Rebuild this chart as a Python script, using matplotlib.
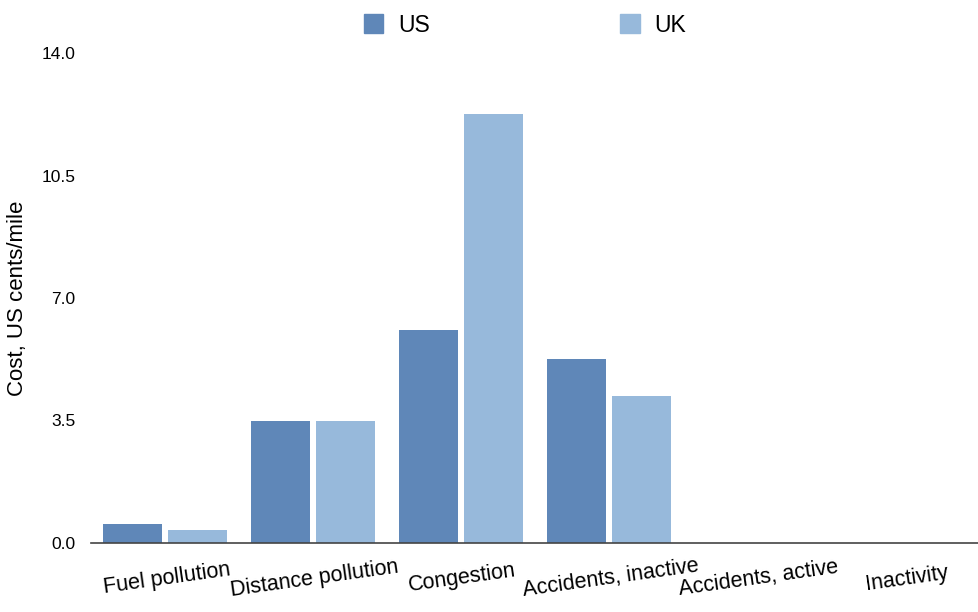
import matplotlib
matplotlib.use("Agg")
import matplotlib.pyplot as plt
import numpy as np
from matplotlib.patches import Patch

categories = ["Fuel pollution", "Distance pollution", "Congestion",
              "Accidents, inactive", "Accidents, active", "Inactivity"]
us_values = [0.54, 3.5, 6.1, 5.25, 0.0, 0.0]
uk_values = [0.37, 3.5, 12.25, 4.2, 0.0, 0.0]
yticks = [0.0, 3.5, 7.0, 10.5, 14.0]

us_color = "#5f87b8"
uk_color = "#97b9db"

plt.rcParams['font.family'] = ['Liberation Sans', 'DejaVu Sans']

fig = plt.figure(figsize=(9.79, 6.12), dpi=100)
ax = fig.add_axes([91/979, 1 - 543/612, 1 - 91/979, (543 - 53)/612])

x = np.arange(len(categories))
w = 0.40
ax.bar(x - 0.22, us_values, width=w, color=us_color, label="US")
ax.bar(x + 0.22, uk_values, width=w, color=uk_color, label="UK")

ax.set_xlim(-0.5, len(categories) - 0.5)
ax.set_ylim(0, 14)
ax.set_yticks(yticks)
ax.set_yticklabels([f"{v:.1f}" for v in yticks], fontsize=12.5)
ax.tick_params(axis='y', length=0, pad=11)
ax.tick_params(axis='x', length=0, pad=18)
ax.set_xticks(x)
ax.set_xticklabels(categories, rotation=8, fontsize=15.5, ha='center', rotation_mode='anchor', va='top')
for s in ['top', 'right', 'left']:
    ax.spines[s].set_visible(False)
ax.spines['bottom'].set_color('#444444')
ax.spines['bottom'].set_linewidth(1.2)
ax.set_ylabel("Cost, US cents/mile", fontsize=16, labelpad=10)

handles = [Patch(color=us_color), Patch(color=uk_color)]
fig.legend(handles, ["US", "UK"], loc='center', bbox_to_anchor=(525/979, 1 - 25/612),
           ncol=2, frameon=False, fontsize=16.5, handlelength=0.85, handleheight=0.85,
           handletextpad=0.65, columnspacing=8.3)

fig.savefig("out.png", dpi=100)
